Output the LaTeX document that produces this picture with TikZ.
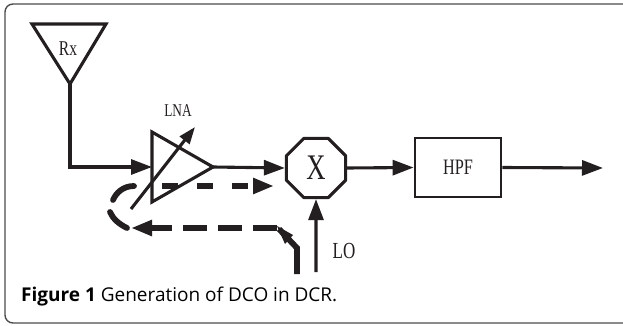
\documentclass[tikz,border=0pt]{standalone}
\usepackage{fontspec}
\usetikzlibrary{arrows.meta,shapes.geometric}
\newfontfamily\cnserif[FakeStretch=0.74]{Liberation Serif}
\newfontfamily\capfont{Open Sans}
\definecolor{ink}{HTML}{231F20}
\tikzset{
  wire/.style={line width=3.1pt, draw=ink},
  arr/.style={wire, -{Triangle[length=21pt,width=15pt]}},
  dline/.style={line width=5.8pt, draw=ink},
  lbl/.style={inner sep=0pt, text=ink, font=\cnserif},
}
\begin{document}
\begin{tikzpicture}[x=1pt,y=-1pt]
\useasboundingbox (0,0) rectangle (623,326);
% frame
\draw[line width=1.4pt, draw=black!70, rounded corners=8pt] (5,4) rectangle (640,323);
% Rx antenna
\draw[wire, line join=miter] (32,24) -- (106,24) -- (70,84) -- cycle;
\coordinate (rx) at (70,84);
\node[lbl, font=\cnserif\fontsize{21}{21}\selectfont] (rxl) at (68,49) {Rx};
% LNA
\draw[wire, line join=miter] (152,132) -- (152,202) -- (213,167) -- cycle;
\coordinate (lnain) at (152,167);
\coordinate (lnaout) at (213,167);
\coordinate (va) at (131,209);
\coordinate (vb) at (195,127);
\draw[wire, -{Triangle[length=17pt,width=12pt]}] (va) -- (vb);
\node[lbl, font=\cnserif\fontsize{18}{18}\selectfont] (lnal) at (178,111) {LNA};
% mixer
\node[regular polygon, regular polygon sides=8, minimum size=64pt, inner sep=0pt,
      wire, line join=round, lbl, font=\cnserif\fontsize{36}{36}\selectfont] (mix) at (316,168) {X};
% HPF
\node[draw=ink, line width=2.8pt, minimum width=86pt, minimum height=59pt, inner sep=0pt,
      lbl, font=\cnserif\fontsize{22}{22}\selectfont] (hpf) at (458,167.5) {HPF};
\coordinate (out) at (603,168);
\coordinate (lo) at (316,272);
\node[lbl, font=\cnserif\fontsize{23}{23}\selectfont] (lol) at (344,251) {LO};
% connectors
\draw[arr] (rx) |- (lnain);
\draw[arr] (lnaout) -- (mix.west);
\draw[arr] (mix.east) -- (hpf.west);
\draw[arr] (hpf.east) -- (out);
\draw[arr] (lo) -- (mix.south);
% DC offset loop (dashed)
\draw[dline, line cap=round] (113,200) .. controls (116,193) and (123,186) .. (134,186);
\draw[dline, dash pattern=on 16pt off 19pt, -{Triangle[length=21pt,width=15pt]}] (162,186) -- (274,186);
\draw[dline, line join=miter] (297,274) -- (297,248) -- (279,229);
\fill[ink] (277,226) -- (293,235) -- (285,244) -- cycle;
\draw[dline, dash pattern=on 24pt off 11pt, -{Triangle[length=21pt,width=15pt]}] (277,228) -- (131,228);
\draw[dline, line cap=round] (127,228) .. controls (119,224) and (113,219) .. (110,212);
% caption
\node[anchor=west, inner sep=0pt, text=black, font=\capfont\fontsize{19}{19}\selectfont] (cap) at (21,297)
  {\textbf{Figure 1} Generation of DCO in DCR.};
\end{tikzpicture}
\end{document}
